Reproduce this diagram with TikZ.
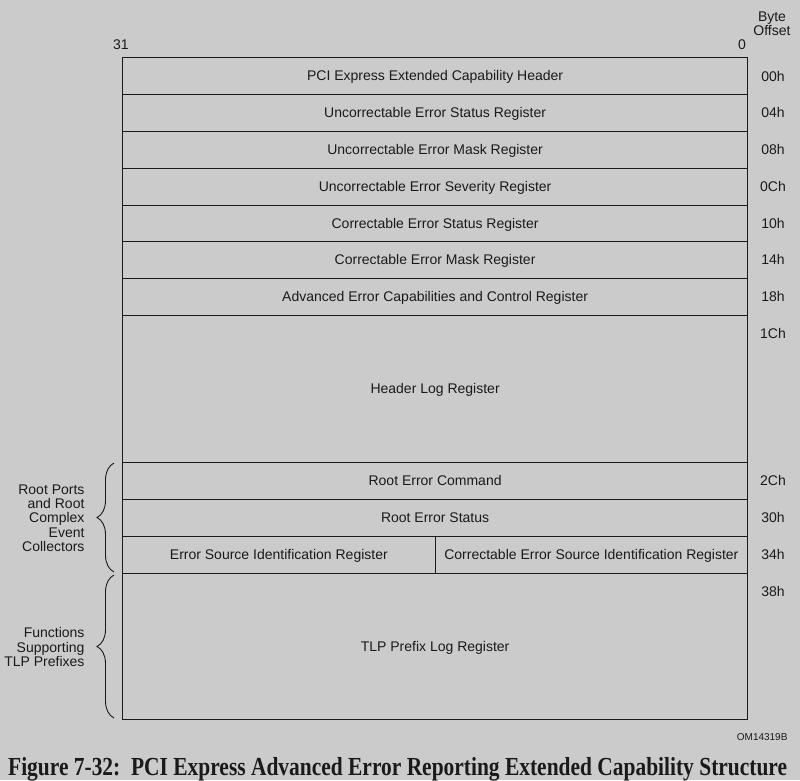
\documentclass[tikz,border=0pt]{standalone}
\usepackage{fontspec}
\setmainfont{Liberation Sans}
\newfontfamily\capfont{Liberation Serif}
\usetikzlibrary{decorations.pathreplacing}
\definecolor{bg}{HTML}{CBCBCB}
\definecolor{ink}{HTML}{1A1A1A}
\begin{document}
\begin{tikzpicture}[x=1pt,y=-1pt,
  every node/.style={text=ink, font=\fontsize{14}{16}\selectfont},
  regbox/.style={draw=ink, line width=1.2pt, minimum width=625pt, inner sep=0pt, anchor=north west, text depth=1pt},
  offs/.style={anchor=center},
  lbl/.style={align=right, anchor=east, font=\fontsize{14}{14.3}\selectfont},
  brc/.style={draw=ink, line width=0.9pt, decorate, decoration={brace, amplitude=17pt}}]
\fill[bg] (0,0) rectangle (800,780);
\useasboundingbox (0,0) rectangle (800,780);
% column headers
\node (b31) at (121,45) {31};
\node (b0) at (742,45) {0};
\node[align=center, font=\fontsize{14}{13}\selectfont] (bo) at (772,24) {Byte\\Offset};
% rows
\node[regbox, minimum height=37pt] (r00) at (122,57) {PCI Express Extended Capability Header};
\node[regbox, minimum height=37pt] (r04) at (122,94) {Uncorrectable Error Status Register};
\node[regbox, minimum height=37pt] (r08) at (122,131) {Uncorrectable Error Mask Register};
\node[regbox, minimum height=37pt] (r0C) at (122,168) {Uncorrectable Error Severity Register};
\node[regbox, minimum height=36pt] (r10) at (122,205) {Correctable Error Status Register};
\node[regbox, minimum height=37pt] (r14) at (122,241) {Correctable Error Mask Register};
\node[regbox, minimum height=37pt] (r18) at (122,278) {Advanced Error Capabilities and Control Register};
\node[regbox, minimum height=147pt] (r1C) at (122,315) {Header Log Register};
\node[regbox, minimum height=37pt] (r2C) at (122,462) {Root Error Command};
\node[regbox, minimum height=37pt] (r30) at (122,499) {Root Error Status};
\node[regbox, minimum height=37pt, minimum width=312.5pt] (r34a) at (122,536) {Error Source Identification Register};
\node[regbox, minimum height=37pt, minimum width=312.5pt] (r34b) at (434.5,536) {Correctable Error Source Identification Register};
\node[regbox, minimum height=146pt] (r38) at (122,573) {TLP Prefix Log Register};
% offsets
\node[offs] (o00) at (773,76) {00h};
\node[offs] (o04) at (773,112) {04h};
\node[offs] (o08) at (773,149) {08h};
\node[offs] (o0C) at (773,186) {0Ch};
\node[offs] (o10) at (773,223) {10h};
\node[offs] (o14) at (773,259) {14h};
\node[offs] (o18) at (773,296) {18h};
\node[offs] (o1C) at (773,333) {1Ch};
\node[offs] (o2C) at (773,480) {2Ch};
\node[offs] (o30) at (773,517) {30h};
\node[offs] (o34) at (773,554) {34h};
\node[offs] (o38) at (773,591) {38h};
% side labels with braces
\coordinate (b1t) at (114,463);
\coordinate (b1b) at (114,572);
\coordinate (b2t) at (114,575);
\coordinate (b2b) at (114,718);
\draw[brc] (b1b) -- (b1t);
\draw[brc] (b2b) -- (b2t);
\node[lbl] (l1) at (88,518) {Root Ports\\and Root\\Complex\\Event\\Collectors};
\node[lbl] (l2) at (88,647) {Functions\\Supporting\\TLP Prefixes};
% figure id and caption
\node[anchor=east, font=\fontsize{10}{11}\selectfont] (om) at (791,737) {OM14319B};
\node[anchor=base west, inner sep=0pt, font=\capfont\bfseries\fontsize{26}{27}\selectfont, xscale=0.825] (cap) at (8,775) {Figure 7-32:\ \ PCI Express Advanced Error Reporting Extended Capability Structure};
\end{tikzpicture}
\end{document}
